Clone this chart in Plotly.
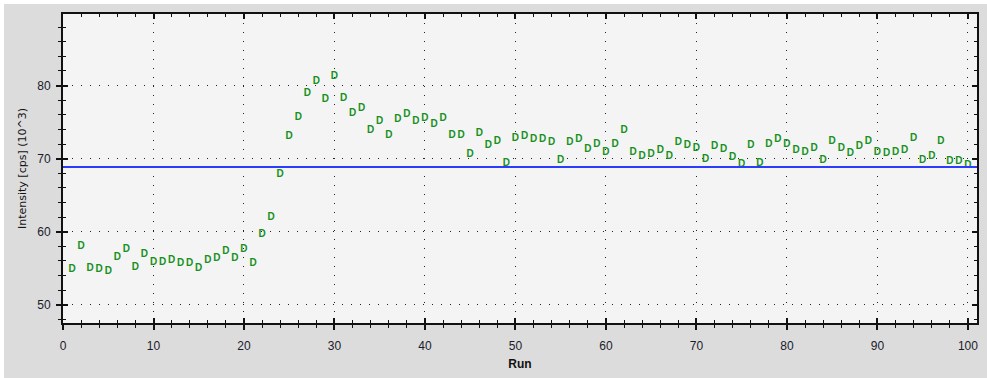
import plotly.graph_objects as go

runs = list(range(1, 101))
intensity = [
    54.8, 58.0, 55.0, 54.8, 54.6, 56.5, 57.6, 55.1, 56.9, 55.8,
    55.8, 56.1, 55.6, 55.7, 55.0, 56.1, 56.3, 57.3, 56.3, 57.5,
    55.6, 59.55, 62.0, 67.85, 73.0, 75.6, 78.9, 80.55, 78.1, 81.3,
    78.3, 76.2, 76.8, 73.9, 75.1, 73.2, 75.3, 76.0, 75.1, 75.45,
    74.7, 75.45, 73.2, 73.2, 70.6, 73.4, 71.85, 72.4, 69.4, 72.75,
    73.0, 72.6, 72.6, 72.2, 69.75, 72.2, 72.6, 71.25, 72.0, 70.9,
    72.0, 73.9, 70.9, 70.3, 70.5, 71.1, 70.35, 72.2, 71.85, 71.45,
    69.95, 71.6, 71.25, 70.1, 69.2, 71.85, 69.4, 72.0, 72.6, 72.0,
    71.1, 70.9, 71.45, 69.75, 72.4, 71.45, 70.7, 71.65, 72.4, 70.9,
    70.7, 70.9, 71.1, 72.75, 69.75, 70.3, 72.4, 69.6, 69.6, 69.0,
]
reference_level = 68.85
x_range = [0, 101]
y_range = [47.5, 89.8]
x_title = "Run"
y_title = "Intensity [cps] (10^3)"

W, H = 987, 378
ML, MR, MT, MB = 63, 10, 14, 55
PW, PH = W - ML - MR, H - MT - MB

fig = go.Figure()
fig.add_trace(go.Scatter(
    x=runs, y=intensity, mode="text", text=["D"] * len(runs),
    textposition="middle center",
    textfont=dict(family="Liberation Sans", size=10, color="#17901c", weight="bold"),
    showlegend=False, hoverinfo="x+y",
))
# empty trace to instantiate overlay axes (crossing ticks)
fig.add_trace(go.Scatter(x=[], y=[], xaxis="x2", yaxis="y2", showlegend=False))

fig.add_hline(y=reference_level, line=dict(color="#2b3cff", width=2), layer="above")

grid_common = dict(showgrid=True, gridcolor="#222222", gridwidth=1, griddash="1px,8px")
tickfont = dict(family="Liberation Sans", size=12, color="#1a1a2a")

fig.update_layout(
    width=W, height=H,
    margin=dict(l=ML, r=MR, t=MT, b=MB, autoexpand=False),
    paper_bgcolor="#dcdcdc",
    plot_bgcolor="#f4f4f4",
    xaxis=dict(
        range=x_range, dtick=10, tick0=0, ticks="outside", ticklen=5, tickwidth=2,
        tickcolor="#111", minor=dict(dtick=2, ticks="outside", ticklen=3, tickwidth=1, tickcolor="#111"),
        showline=True, linecolor="#111", linewidth=2, mirror=True, zeroline=False,
        tickfont=tickfont, ticklabelstandoff=6,
        title=dict(text=x_title, font=dict(family="Liberation Sans", size=12, color="#111",
                                           weight="bold"), standoff=7),
        **grid_common,
    ),
    yaxis=dict(
        range=y_range, dtick=10, tick0=50, ticks="outside", ticklen=5, tickwidth=2,
        tickcolor="#111", minor=dict(dtick=2, tick0=50, ticks="outside", ticklen=3, tickwidth=1, tickcolor="#111"),
        showline=True, linecolor="#111", linewidth=2, mirror=True, zeroline=False,
        tickfont=tickfont, ticklabelstandoff=3,
        title=dict(text=y_title, font=dict(family="DejaVu Sans", size=11, color="#111"), standoff=8),
        **grid_common,
    ),
    xaxis2=dict(
        overlaying="x", anchor="y", matches="x", range=x_range, dtick=10, tick0=0,
        ticks="inside", ticklen=5, tickwidth=2, tickcolor="#111", mirror="allticks",
        minor=dict(dtick=2, ticks="inside", ticklen=3, tickwidth=1, tickcolor="#111"),
        showticklabels=False, showgrid=False, showline=False, zeroline=False,
    ),
    yaxis2=dict(
        overlaying="y", anchor="x", matches="y", side="left", range=y_range, dtick=10, tick0=50,
        ticks="inside", ticklen=5, tickwidth=2, tickcolor="#111", mirror="allticks",
        minor=dict(dtick=2, tick0=50, ticks="inside", ticklen=3, tickwidth=1, tickcolor="#111"),
        showticklabels=False, showgrid=False, showline=False, zeroline=False,
    ),
)

# thin white frame at top and left edges of the window
fig.add_shape(type="rect", xref="paper", yref="paper",
              x0=-ML / PW, x1=(4 - ML) / PW, y0=-MB / PH, y1=1 + MT / PH,
              fillcolor="white", line_width=0, layer="below")
fig.add_shape(type="rect", xref="paper", yref="paper",
              x0=-ML / PW, x1=1 + MR / PW, y0=1 + (MT - 4) / PH, y1=1 + MT / PH,
              fillcolor="white", line_width=0, layer="below")

fig.write_html("out.html", config={"displayModeBar": False},
               post_script="document.body.style.margin='0';")
